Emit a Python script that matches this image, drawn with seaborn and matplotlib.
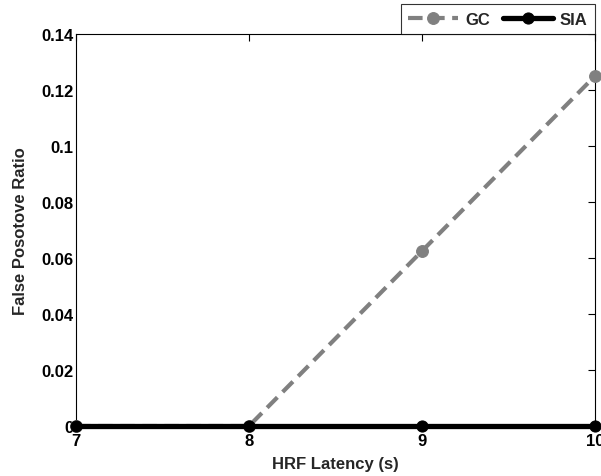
import matplotlib
matplotlib.use("Agg")
import matplotlib.pyplot as plt
import seaborn as sns
import pandas as pd

latency = [7, 8, 9, 10]
gc_values = [0.0, 0.0, 0.0625, 0.125]
sia_values = [0.0, 0.0, 0.0, 0.0]
y_ticks = [0, 0.02, 0.04, 0.06, 0.08, 0.1, 0.12, 0.14]
y_tick_labels = ["0", "0.02", "0.04", "0.06", "0.08", "0.1", "0.12", "0.14"]
x_ticks = [7, 8, 9, 10]

sns.set_style("white")
plt.rcParams['font.family'] = ['Liberation Sans', 'DejaVu Sans']
plt.rcParams['font.weight'] = 'bold'

fig = plt.figure(figsize=(6.01, 4.77), dpi=100)
ax = fig.add_axes([0.1265, 0.1048, 0.8635, 0.8218])

df_gc = pd.DataFrame({"x": latency, "y": gc_values})
df_sia = pd.DataFrame({"x": latency, "y": sia_values})

sns.lineplot(data=df_gc, x="x", y="y", ax=ax, color="#808080", linewidth=3,
             linestyle=(0, (3.5, 1.8)), marker="o", markersize=8.5,
             markeredgecolor="#808080", label="GC")
sns.lineplot(data=df_sia, x="x", y="y", ax=ax, color="black", linewidth=3.8,
             marker="o", markersize=8, markeredgecolor="black", label="SIA")
for i, ln in enumerate(ax.lines):
    ln.set_clip_on(False)
    ln.set_zorder(3 + i)

ax.set_xlim(7, 10)
ax.set_ylim(0, 0.14)
ax.set_xticks(x_ticks)
ax.set_yticks(y_ticks)
ax.set_yticklabels(y_tick_labels)
ax.tick_params(direction="in", length=5, width=0.8, labelsize=12, pad=2,
               top=True, right=True, colors="black")
ax.tick_params(axis="x", pad=5)
for lab in ax.get_xticklabels() + ax.get_yticklabels():
    lab.set_fontweight("bold")
for s in ax.spines.values():
    s.set_visible(True)
    s.set_color("black")
    s.set_linewidth(0.8)

ax.set_xlabel("HRF Latency (s)", fontsize=12, fontweight="bold", labelpad=6)
ax.set_ylabel("False Posotove Ratio", fontsize=12, fontweight="bold", labelpad=9)

leg = ax.legend(loc="lower right", bbox_to_anchor=(1.0, 1.0), ncol=2,
                frameon=True, fancybox=False, borderaxespad=0.0,
                fontsize=12, handlelength=3.0, columnspacing=0.8,
                handletextpad=0.4, borderpad=0.45)
leg.get_frame().set_edgecolor("black")
leg.get_frame().set_linewidth(0.8)
for t in leg.get_texts():
    t.set_fontweight("bold")

fig.savefig("out.png", dpi=100)
